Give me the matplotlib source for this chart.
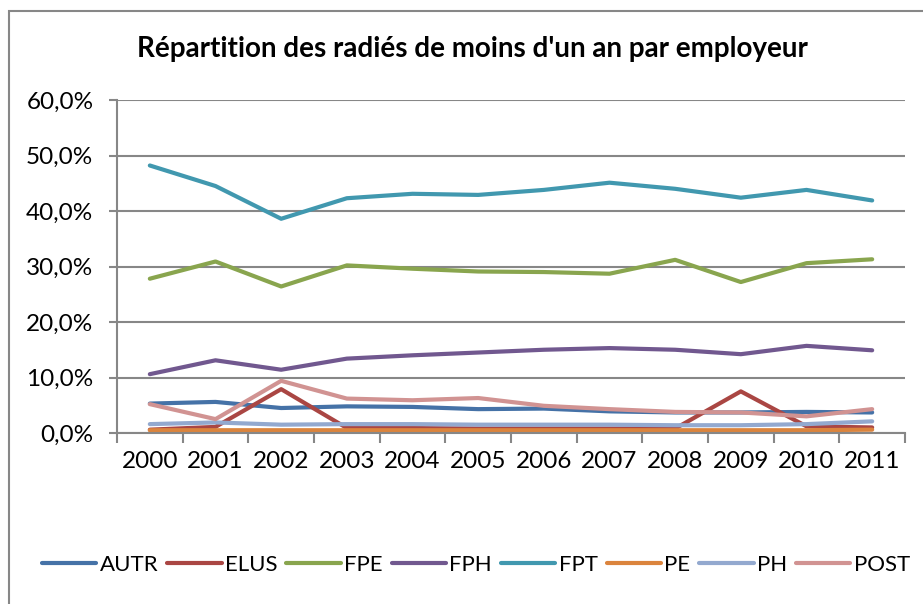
import matplotlib
matplotlib.use("Agg")
import matplotlib.pyplot as plt
from matplotlib.patches import Rectangle
from matplotlib.ticker import FuncFormatter

plt.rcParams["font.family"] = ["Lato", "DejaVu Sans"]

years = ["2000", "2001", "2002", "2003", "2004", "2005",
         "2006", "2007", "2008", "2009", "2010", "2011"]

autr = [5.3, 5.6, 4.5, 4.8, 4.7, 4.3, 4.4, 3.9, 3.7, 3.7, 3.8, 3.7]
elus = [0.6, 1.1, 7.9, 0.9, 0.9, 0.8, 0.8, 0.8, 0.8, 7.5, 1.2, 1.0]
fpe = [27.8, 30.9, 26.4, 30.2, 29.6, 29.1, 29.0, 28.7, 31.2, 27.2, 30.6, 31.3]
fph = [10.6, 13.1, 11.4, 13.4, 14.0, 14.5, 15.0, 15.3, 15.0, 14.2, 15.7, 14.9]
fpt = [48.2, 44.5, 38.6, 42.3, 43.1, 42.9, 43.8, 45.1, 44.0, 42.4, 43.8, 41.9]
pe = [0.5, 0.5, 0.5, 0.5, 0.5, 0.5, 0.5, 0.5, 0.5, 0.5, 0.5, 0.6]
ph = [1.6, 1.9, 1.5, 1.6, 1.6, 1.5, 1.5, 1.5, 1.4, 1.4, 1.6, 2.1]
post = [5.2, 2.5, 9.4, 6.2, 5.9, 6.3, 4.9, 4.3, 3.8, 3.7, 3.0, 4.3]

series = [("AUTR", autr, "#4572A7"), ("ELUS", elus, "#AA4643"),
          ("FPE", fpe, "#89A54E"), ("FPH", fph, "#71588F"),
          ("FPT", fpt, "#4198AF"), ("PE", pe, "#DB843D"),
          ("PH", ph, "#93A9CF"), ("POST", post, "#D19392")]

fig = plt.figure(figsize=(9.23, 6.04), dpi=100)
ax = fig.add_axes([117 / 923, 1 - 433 / 604, (905 - 117) / 923, (433 - 100) / 604])

# outer chart border (runs off the picture on right and bottom)
fig.patches.append(Rectangle((9 / 923, -0.05), 1.0, 1 - 11 / 604 + 0.05,
                             transform=fig.transFigure, fill=False,
                             edgecolor="#878787", linewidth=1.5))

x = list(range(len(years)))
for name, vals, col in series:
    ax.plot(x, vals, color=col, linewidth=3.0, solid_capstyle="round",
            solid_joinstyle="round", label=name)

ax.set_xlim(-0.5, len(years) - 0.5)
ax.set_ylim(0, 60)
ax.set_yticks(range(0, 61, 10))
ax.yaxis.set_major_formatter(FuncFormatter(lambda v, p: f"{v:.1f}%".replace(".", ",")))
ax.set_xticks(x)
ax.set_xticklabels(years)
ax.set_xticks([i - 0.5 for i in range(len(years) + 1)], minor=True)
ax.tick_params(axis="x", which="major", length=0, pad=13, labelsize=17.5)
ax.tick_params(axis="x", which="minor", length=7, width=1.5, color="#878787")
ax.tick_params(axis="y", length=6, width=1.5, color="#878787", labelsize=17.5, pad=11)

ax.grid(axis="y", color="#878787", linewidth=1.5)
ax.set_axisbelow(True)
for s in ["top", "right"]:
    ax.spines[s].set_visible(False)
for s in ["left", "bottom"]:
    ax.spines[s].set_color("#878787")
    ax.spines[s].set_linewidth(1.5)

fig.text(472 / 923, 1 - 49 / 604, "Répartition des radiés de moins d'un an par employeur",
         ha="center", va="center", fontsize=20, fontweight="bold")

fig.legend(loc="center", bbox_to_anchor=(476 / 923, 1 - 565 / 604), ncol=8,
           frameon=False, fontsize=16, handlelength=2.45, handletextpad=0.15,
           columnspacing=0.4, borderaxespad=0, borderpad=0)

fig.savefig("out.png", dpi=100)
